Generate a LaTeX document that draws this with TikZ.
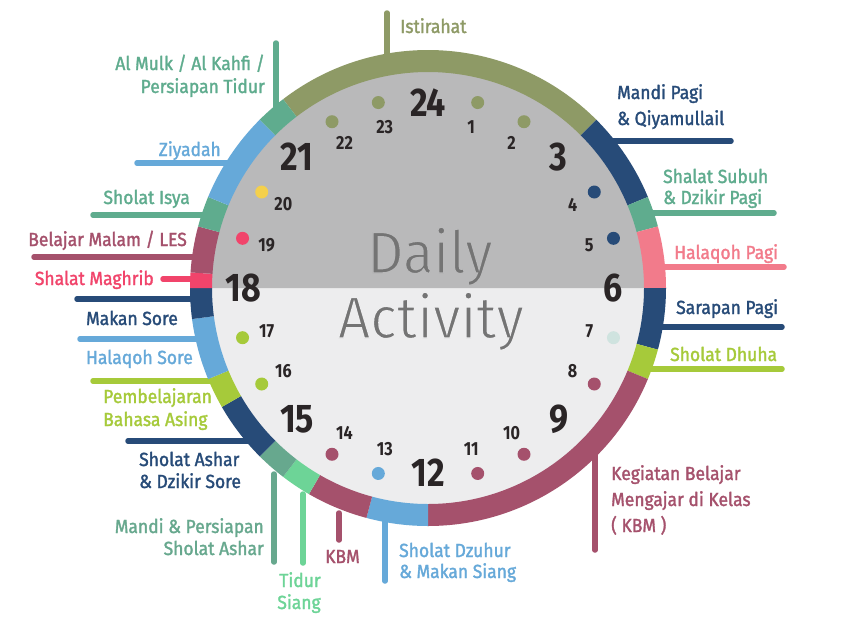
\documentclass[tikz,border=0pt]{standalone}
\usepackage{fontspec}
\setmainfont{Fira Sans}[FakeStretch=0.92, FakeBold=1.6]
\newfontfamily\numfont{Fira Sans Bold}[FakeStretch=0.85]
\newfontfamily\thinfont{Fira Sans}[FakeStretch=0.95, FakeBold=2.4]
\newcommand{\erodetop}{\special{pdf:literal direct 0.725 0.725 0.729 RG}}
\newcommand{\erodebot}{\special{pdf:literal direct 0.929 0.929 0.933 RG}}
\definecolor{cOlive}{HTML}{8E9A66}
\definecolor{cNavy}{HTML}{274B78}
\definecolor{cTeal}{HTML}{5FAC8E}
\definecolor{cTealG}{HTML}{67A88E}
\definecolor{cPink}{HTML}{F27B8B}
\definecolor{cLime}{HTML}{A6CA3A}
\definecolor{cMaroon}{HTML}{A5516C}
\definecolor{cBlue}{HTML}{66A9D9}
\definecolor{cMint}{HTML}{6DD497}
\definecolor{cRed}{HTML}{F1446B}
\definecolor{cYellow}{HTML}{F4D04C}
\definecolor{cPale}{HTML}{CFE3DF}
\definecolor{cDark}{HTML}{2A2526}
\definecolor{cTop}{HTML}{B9B9BA}
\definecolor{cBot}{HTML}{EDEDEE}
\definecolor{cCenter}{HTML}{747474}
\tikzset{
  lab/.style={font=\fontsize{19}{23}\selectfont, inner sep=0pt},
  leader/.style={line width=5.5pt, line cap=round},
  bignum/.style={font=\numfont\fontsize{40}{44}\selectfont, text=cDark, inner sep=0pt},
  smallnum/.style={font=\numfont\fontsize{19}{22}\selectfont, text=cDark, inner sep=0pt},
  hourdot/.style={circle, inner sep=0pt, minimum size=13pt},
  centertext/.style={font=\thinfont\fontsize{59}{60}\selectfont, text=cCenter, anchor=base, inner sep=0pt},
}
\begin{document}
\begin{tikzpicture}[x=1pt, y=-1pt]
\useasboundingbox (0,0) rectangle (854,640);
\fill[white] (0,0) rectangle (854,640);
% inner disc
\begin{scope}[shift={(428,288)}]
  \fill[cBot] (0,0) circle[radius=217];
  \fill[cTop] (-217,0) arc[start angle=180, end angle=360, radius=217] -- cycle;
\end{scope}
% leader end points
\coordinate (aIst) at (387,13);   \coordinate (bIst) at (387,60);
\coordinate (aMul) at (276,43);   \coordinate (bMul) at (276,115);
\coordinate (aZiy) at (137,163);  \coordinate (bZiy) at (235,163);
\coordinate (aIsy) at (93,215);   \coordinate (bIsy) at (212,215);
\coordinate (aBel) at (34,257);   \coordinate (bBel) at (202,257);
\coordinate (aMag) at (163,279);  \coordinate (bMag) at (202,279);
\coordinate (aMak) at (77,299);   \coordinate (bMak) at (202,299);
\coordinate (aHSo) at (80,339);   \coordinate (bHSo) at (206,339);
\coordinate (aPem) at (93,381);   \coordinate (bPem) at (218,381);
\coordinate (aAsh) at (128,441);  \coordinate (bAsh) at (256,441);
\coordinate (aMan) at (274,562);  \coordinate (bMan) at (274,474);
\coordinate (aTid) at (303,563);  \coordinate (bTid) at (303,494);
\coordinate (aKbs) at (339,540);  \coordinate (bKbs) at (339,513);
\coordinate (aDzu) at (385,581);  \coordinate (bDzu) at (385,520);
\coordinate (aKbm) at (595,550);  \coordinate (bKbm) at (595,455);
\coordinate (aDhu) at (782,369);  \coordinate (bDhu) at (645,369);
\coordinate (aSar) at (782,327);  \coordinate (bSar) at (655,327);
\coordinate (aHPa) at (784,267);  \coordinate (bHPa) at (655,267);
\coordinate (aSub) at (774,213);  \coordinate (bSub) at (645,213);
\coordinate (aMPa) at (731,141);  \coordinate (bMPa) at (605,141);
\draw[leader,cOlive] (aIst) -- (bIst);
\draw[leader,cTeal] (aMul) -- (bMul);
\draw[leader,cBlue] (aZiy) -- (bZiy);
\draw[leader,cTeal] (aIsy) -- (bIsy);
\draw[leader,cMaroon] (aBel) -- (bBel);
\draw[leader,cRed] (aMag) -- (bMag);
\draw[leader,cNavy] (aMak) -- (bMak);
\draw[leader,cBlue] (aHSo) -- (bHSo);
\draw[leader,cLime] (aPem) -- (bPem);
\draw[leader,cNavy] (aAsh) -- (bAsh);
\draw[leader,cTealG] (aMan) -- (bMan);
\draw[leader,cMint] (aTid) -- (bTid);
\draw[leader,cMaroon] (aKbs) -- (bKbs);
\draw[leader,cBlue] (aDzu) -- (bDzu);
\draw[leader,cMaroon] (aKbm) -- (bKbm);
\draw[leader,cLime] (aDhu) -- (bDhu);
\draw[leader,cNavy] (aSar) -- (bSar);
\draw[leader,cPink] (aHPa) -- (bHPa);
\draw[leader,cTeal] (aSub) -- (bSub);
\draw[leader,cNavy] (aMPa) -- (bMPa);
% ring
\begin{scope}[shift={(428,288)}]
  \foreach \ha/\hb/\cc in {21.5/27/cOlive, 3/4.5/cNavy, 4.5/5/cTeal, 5/6/cPink,
      6/7/cNavy, 7/7.5/cLime, 7.5/12/cMaroon, 12/13/cBlue, 13/14/cMaroon,
      14/14.5/cMint, 14.5/15/cTealG, 15/16/cNavy, 16/16.5/cLime, 16.5/17.5/cBlue,
      17.5/18/cNavy, 18/18.25/cRed, 18.25/19/cMaroon, 19/19.5/cTeal,
      19.5/21/cBlue, 21/21.5/cTeal}
    \fill[\cc] ({-90+15*\ha}:238) arc[start angle={-90+15*\ha}, end angle={-90+15*\hb}, radius=238]
      -- ({-90+15*\hb}:216) arc[start angle={-90+15*\hb}, end angle={-90+15*\ha}, radius=216] -- cycle;
  % dots and small numbers
  \foreach \h/\cc in {1/cOlive, 2/cOlive, 4/cNavy, 5/cNavy, 7/cPale, 8/cMaroon,
      10/cMaroon, 11/cMaroon, 13/cBlue, 14/cMaroon, 16/cLime, 17/cLime,
      19/cRed, 20/cYellow, 22/cOlive, 23/cOlive} {
    \node[hourdot, fill=\cc] (d\h) at ({-90+15*\h}:192) {};
    \node[smallnum] (n\h) at ({-90+15*\h}:167) {\h};
  }
  \foreach \h in {3,6,9,12,15,18,21,24}
    \node[bignum] (N\h) at ({-90+15*\h}:185) {\h};
\end{scope}
% center text
\node[centertext] (tDaily) at (430,273) {\erodetop Daily};
\node[centertext] (tAct) at (431,338) {\erodebot Activity};
% labels
\node[lab, text=cOlive, anchor=base west] (tIst) at (400,33) {Istirahat};
\node[lab, text=cTeal, anchor=base east] (tMulA) at (265,70) {Al Mulk / Al Kahfi /};
\node[lab, text=cTeal, anchor=base east] (tMulB) at (265,93) {Persiapan Tidur};
\node[lab, text=cBlue, anchor=base east] (tZiy) at (221,156) {Ziyadah};
\node[lab, text=cTeal, anchor=base east] (tIsy) at (190,204) {Sholat Isya};
\node[lab, text=cMaroon, anchor=base east] (tBel) at (187,246) {Belajar Malam / LES};
\node[lab, text=cRed, anchor=base east] (tMag) at (154,285) {Shalat Maghrib};
\node[lab, text=cNavy, anchor=base east] (tMak) at (178,325) {Makan Sore};
\node[lab, text=cBlue, anchor=base east] (tHSo) at (193,364) {Halaqoh Sore};
\node[lab, text=cLime, anchor=base west] (tPemA) at (103,403) {Pembelajaran};
\node[lab, text=cLime, anchor=base west] (tPemB) at (103,426) {Bahasa Asing};
\node[lab, text=cNavy, anchor=base west] (tAshA) at (139,466) {Sholat Ashar};
\node[lab, text=cNavy, anchor=base west] (tAshB) at (139,488) {\& Dzikir Sore};
\node[lab, text=cTealG, anchor=base east] (tManA) at (264,533) {Mandi \& Persiapan};
\node[lab, text=cTealG, anchor=base east] (tManB) at (264,555) {Sholat Ashar};
\node[lab, text=cMint, anchor=base] (tTidA) at (300,587) {Tidur};
\node[lab, text=cMint, anchor=base] (tTidB) at (299,609) {Siang};
\node[lab, text=cMaroon, anchor=base west] (tKbs) at (325,563) {KBM};
\node[lab, text=cBlue, anchor=base west] (tDzuA) at (399,557) {Sholat Dzuhur};
\node[lab, text=cBlue, anchor=base west] (tDzuB) at (399,578) {\& Makan Siang};
\node[lab, text=cMaroon, anchor=base west] (tKbmA) at (611,480) {Kegiatan Belajar};
\node[lab, text=cMaroon, anchor=base west] (tKbmB) at (611,506) {Mengajar di Kelas};
\node[lab, text=cMaroon, anchor=base west] (tKbmC) at (611,532) {( KBM )};
\node[lab, text=cLime, anchor=base west] (tDhu) at (670,361) {Sholat Dhuha};
\node[lab, text=cNavy, anchor=base west] (tSar) at (676,314) {Sarapan Pagi};
\node[lab, text=cPink, anchor=base west] (tHPa) at (674,259) {Halaqoh Pagi};
\node[lab, text=cTeal, anchor=base west] (tSubA) at (663,183) {Shalat Subuh};
\node[lab, text=cTeal, anchor=base west] (tSubB) at (663,204) {\& Dzikir Pagi};
\node[lab, text=cNavy, anchor=base west] (tMPaA) at (617,99) {Mandi Pagi};
\node[lab, text=cNavy, anchor=base west] (tMPaB) at (617,125) {\& Qiyamullail};
\end{tikzpicture}
\end{document}
